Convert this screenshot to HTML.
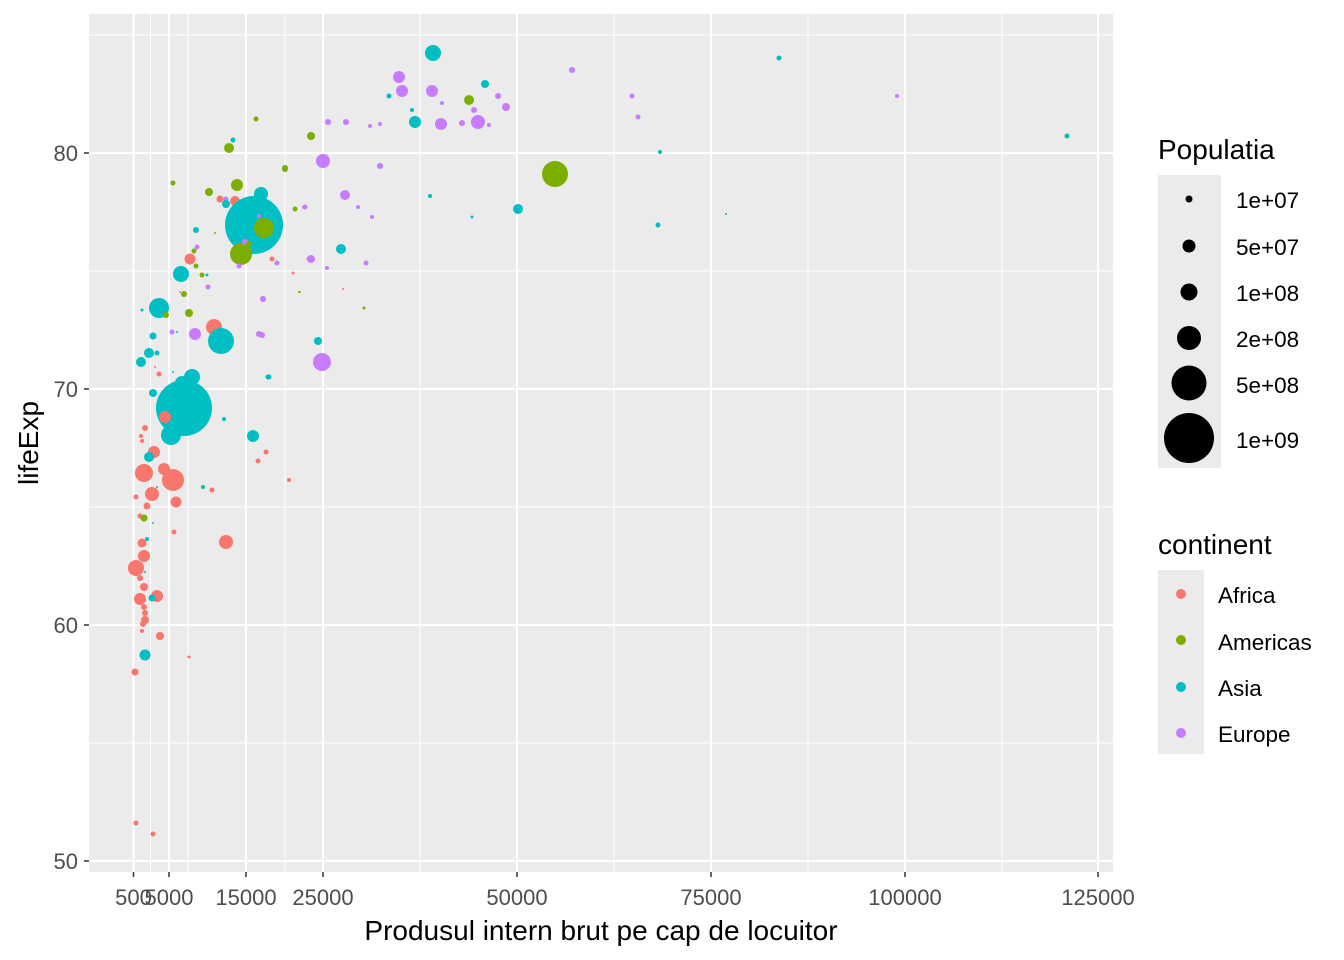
<!DOCTYPE html>
<html><head><meta charset="utf-8"><style>
body{margin:0;background:#fff}
svg{display:block;font-family:"Liberation Sans",Arial,sans-serif}
.A{fill:#F8766D}.M{fill:#7CAE00}.S{fill:#00BFC4}.E{fill:#C77CFF}
</style></head><body>
<svg width="1344" height="960" viewBox="0 0 1344 960">
<rect x="89" y="14" width="1024" height="858" fill="#EBEBEB"/>
<g stroke="#fff" stroke-width="1">
<line x1="89" x2="1113" y1="35" y2="35"/><line x1="89" x2="1113" y1="271" y2="271"/><line x1="89" x2="1113" y1="507" y2="507"/><line x1="89" x2="1113" y1="743" y2="743"/>
<line y1="14" y2="872" x1="150.5" x2="150.5"/><line y1="14" y2="872" x1="188" x2="188"/><line y1="14" y2="872" x1="285" x2="285"/><line y1="14" y2="872" x1="420" x2="420"/><line y1="14" y2="872" x1="614" x2="614"/><line y1="14" y2="872" x1="808" x2="808"/><line y1="14" y2="872" x1="1002" x2="1002"/>
</g>
<g stroke="#fff" stroke-width="2">
<line x1="89" x2="1113" y1="153" y2="153"/><line x1="89" x2="1113" y1="389" y2="389"/><line x1="89" x2="1113" y1="625" y2="625"/><line x1="89" x2="1113" y1="861" y2="861"/>
<line y1="14" y2="872" x1="133.5" x2="133.5"/><line y1="14" y2="872" x1="169" x2="169"/><line y1="14" y2="872" x1="246" x2="246"/><line y1="14" y2="872" x1="323" x2="323"/><line y1="14" y2="872" x1="517" x2="517"/><line y1="14" y2="872" x1="711" x2="711"/><line y1="14" y2="872" x1="905" x2="905"/><line y1="14" y2="872" x1="1098" x2="1098"/>
</g>
<g>
<circle class="S" cx="433" cy="53" r="8"/>
<circle class="E" cx="399" cy="77" r="6"/><circle class="E" cx="402" cy="91" r="6"/><circle class="E" cx="432" cy="91" r="6"/><circle class="E" cx="441" cy="124" r="6"/><circle class="E" cx="478" cy="122" r="7"/><circle class="S" cx="415" cy="122" r="6"/>
<circle class="S" cx="389" cy="96" r="2.5"/><circle class="E" cx="442" cy="103" r="2"/><circle class="S" cx="485" cy="84" r="4"/><circle class="E" cx="498" cy="96" r="3"/><circle class="E" cx="506" cy="107" r="4"/><circle class="M" cx="469" cy="100" r="5"/><circle class="E" cx="474" cy="110" r="3"/><circle class="E" cx="462" cy="123" r="3"/><circle class="E" cx="489" cy="125" r="2"/><circle class="S" cx="412" cy="110" r="2"/>
<circle class="E" cx="572" cy="70" r="3"/><circle class="E" cx="632" cy="96" r="2.5"/><circle class="E" cx="638" cy="117" r="2.5"/><circle class="E" cx="897" cy="96" r="2"/><circle class="S" cx="779" cy="58" r="2.5"/><circle class="S" cx="1067" cy="136" r="2.5"/><circle class="S" cx="660" cy="152" r="2"/><circle class="S" cx="658" cy="225" r="2.5"/><circle class="S" cx="726" cy="214" r="1"/>
<circle class="M" cx="555" cy="174" r="13"/><circle class="S" cx="518" cy="209" r="5"/><circle class="S" cx="472" cy="217" r="1.5"/><circle class="S" cx="430" cy="196" r="2"/>
<circle class="E" cx="380" cy="124" r="2"/><circle class="E" cx="370" cy="126" r="2"/><circle class="E" cx="346" cy="122" r="3"/><circle class="E" cx="328" cy="122" r="3"/><circle class="M" cx="311" cy="136" r="4"/><circle class="M" cx="256" cy="119" r="2.5"/><circle class="S" cx="233" cy="140" r="2.5"/>
<circle class="E" cx="323" cy="161" r="7"/><circle class="M" cx="285" cy="168" r="3"/><circle class="E" cx="345" cy="195" r="5"/><circle class="E" cx="358" cy="207" r="2"/><circle class="E" cx="372" cy="217" r="2"/><circle class="E" cx="304" cy="207" r="2"/><circle class="S" cx="341" cy="249" r="5"/><circle class="E" cx="380" cy="166" r="3"/><circle class="E" cx="311" cy="259" r="4"/><circle class="E" cx="327" cy="268" r="2"/><circle class="E" cx="366" cy="263" r="2.5"/><circle class="M" cx="299" cy="292" r="1"/><circle class="A" cx="343" cy="289" r="1"/><circle class="M" cx="364" cy="308" r="1.5"/><circle class="S" cx="318" cy="341" r="4"/><circle class="E" cx="322" cy="362" r="9"/><circle class="E" cx="262" cy="335" r="3"/><circle class="E" cx="263" cy="299" r="3"/><circle class="S" cx="268" cy="377" r="2.5"/>
<circle class="M" cx="229" cy="148" r="5"/><circle class="M" cx="285" cy="169" r="3"/><circle class="M" cx="173" cy="183" r="2.5"/><circle class="M" cx="237" cy="185" r="6"/><circle class="M" cx="209" cy="192" r="4"/><circle class="A" cx="220" cy="199" r="3.5"/><circle class="E" cx="226" cy="199" r="2.5"/><circle class="A" cx="235" cy="201" r="5"/><circle class="S" cx="226" cy="204" r="4"/>
<circle class="S" cx="261" cy="194" r="7"/><circle class="S" cx="254" cy="225" r="29"/><circle class="M" cx="264" cy="228" r="10"/><circle class="E" cx="259" cy="216" r="2"/><circle class="M" cx="295" cy="209" r="2.5"/><circle class="E" cx="305" cy="207" r="2.5"/><circle class="S" cx="196" cy="230" r="3"/><circle class="M" cx="215" cy="233" r="1"/>
<circle class="E" cx="197" cy="247" r="2.5"/><circle class="M" cx="194" cy="251" r="2.5"/><circle class="A" cx="190" cy="259" r="5.5"/><circle class="M" cx="196" cy="266" r="2.5"/><circle class="M" cx="241" cy="254" r="11"/><circle class="E" cx="245" cy="242" r="3"/><circle class="M" cx="249" cy="244" r="3"/><circle class="A" cx="272" cy="259" r="2.5"/><circle class="E" cx="277" cy="263" r="2.5"/><circle class="E" cx="239" cy="266" r="2.5"/><circle class="E" cx="309" cy="259" r="2.5"/><circle class="A" cx="293" cy="273" r="1.5"/>
<circle class="S" cx="181" cy="274" r="8"/><circle class="M" cx="202" cy="275" r="2.5"/><circle class="S" cx="207" cy="275" r="1.5"/><circle class="E" cx="208" cy="287" r="2.5"/><circle class="A" cx="180" cy="292" r="1"/><circle class="M" cx="184" cy="294" r="3"/><circle class="M" cx="300" cy="292" r="1"/><circle class="E" cx="263" cy="299" r="3"/>
<circle class="S" cx="159" cy="308" r="10"/><circle class="S" cx="142" cy="310" r="1.5"/><circle class="M" cx="166" cy="315" r="3"/><circle class="M" cx="189" cy="313" r="4"/><circle class="A" cx="214" cy="327" r="8"/><circle class="S" cx="221" cy="341" r="13"/><circle class="E" cx="195" cy="334" r="6"/><circle class="E" cx="172" cy="332" r="2.5"/><circle class="S" cx="177" cy="332" r="1"/><circle class="E" cx="259" cy="334" r="3"/>
<circle class="S" cx="153" cy="336" r="3.5"/><circle class="S" cx="149" cy="353" r="5"/><circle class="S" cx="157" cy="353" r="2.5"/><circle class="S" cx="141" cy="362" r="5"/><circle class="A" cx="155" cy="367" r="1"/><circle class="A" cx="159" cy="374" r="2.5"/><circle class="S" cx="173" cy="372" r="1"/><circle class="S" cx="269" cy="377" r="2.5"/>
<circle class="S" cx="192" cy="377" r="8"/><circle class="S" cx="182" cy="383" r="7"/><circle class="S" cx="184" cy="408" r="28"/><circle class="A" cx="165" cy="417" r="6"/><circle class="S" cx="153" cy="393" r="4"/><circle class="S" cx="224" cy="419" r="2"/><circle class="S" cx="171" cy="435" r="10"/><circle class="S" cx="253" cy="436" r="6"/><circle class="A" cx="145" cy="428" r="3"/><circle class="A" cx="141" cy="436" r="2"/><circle class="A" cx="142" cy="441" r="2"/>
<circle class="A" cx="154" cy="452" r="6"/><circle class="S" cx="149" cy="457" r="5"/><circle class="A" cx="266" cy="452" r="2.5"/><circle class="A" cx="258" cy="461" r="2.5"/><circle class="A" cx="144" cy="473" r="9"/><circle class="A" cx="164" cy="469" r="6"/><circle class="A" cx="173" cy="480" r="11"/><circle class="A" cx="152" cy="494" r="7"/><circle class="S" cx="157" cy="487" r="1"/><circle class="S" cx="203" cy="487" r="2"/><circle class="A" cx="212" cy="490" r="2.5"/><circle class="A" cx="289" cy="480" r="2"/><circle class="A" cx="136" cy="497" r="2.5"/><circle class="A" cx="176" cy="502" r="5.5"/><circle class="A" cx="147" cy="506" r="3.5"/><circle class="A" cx="140" cy="516" r="2.5"/><circle class="M" cx="144" cy="518" r="3.5"/><circle class="S" cx="153" cy="523" r="1"/><circle class="A" cx="174" cy="532" r="2.5"/><circle class="S" cx="147" cy="539" r="2"/><circle class="A" cx="142" cy="543" r="4.5"/><circle class="A" cx="226" cy="542" r="7"/><circle class="A" cx="144" cy="556" r="6"/><circle class="A" cx="136" cy="568" r="8"/><circle class="S" cx="145" cy="572" r="1"/><circle class="A" cx="140" cy="578" r="3"/><circle class="A" cx="144" cy="587" r="4"/><circle class="A" cx="140" cy="599" r="6"/><circle class="A" cx="157" cy="596" r="6"/><circle class="S" cx="152" cy="598" r="3.5"/><circle class="A" cx="144" cy="607" r="3"/><circle class="A" cx="145" cy="613" r="3"/><circle class="A" cx="145" cy="620" r="4"/><circle class="A" cx="143" cy="624" r="3"/><circle class="A" cx="142" cy="631" r="2"/><circle class="A" cx="160" cy="636" r="4"/><circle class="S" cx="145" cy="655" r="5.5"/><circle class="A" cx="189" cy="657" r="1.5"/><circle class="A" cx="135" cy="672" r="3.5"/><circle class="A" cx="136" cy="823" r="2.5"/><circle class="A" cx="153" cy="834" r="2.5"/>
</g>
<g stroke="#333" stroke-width="1.5">
<line x1="84" x2="89" y1="153" y2="153"/><line x1="84" x2="89" y1="389" y2="389"/><line x1="84" x2="89" y1="625" y2="625"/><line x1="84" x2="89" y1="861" y2="861"/>
<line y1="872" y2="877" x1="133.5" x2="133.5"/><line y1="872" y2="877" x1="169" x2="169"/><line y1="872" y2="877" x1="246" x2="246"/><line y1="872" y2="877" x1="323" x2="323"/><line y1="872" y2="877" x1="517" x2="517"/><line y1="872" y2="877" x1="711" x2="711"/><line y1="872" y2="877" x1="905" x2="905"/><line y1="872" y2="877" x1="1098" x2="1098"/>
</g>
<g fill="#4D4D4D" font-size="22" text-anchor="end">
<text x="78" y="161">80</text><text x="78" y="397">70</text><text x="78" y="633">60</text><text x="78" y="869">50</text>
</g>
<g fill="#4D4D4D" font-size="22" text-anchor="middle">
<text x="133.5" y="905">500</text><text x="169" y="905">5000</text><text x="246" y="905">15000</text><text x="323" y="905">25000</text><text x="517" y="905">50000</text><text x="711" y="905">75000</text><text x="905" y="905">100000</text><text x="1098" y="905">125000</text>
</g>
<text x="601" y="940" font-size="28" text-anchor="middle">Produsul intern brut pe cap de locuitor</text>
<text transform="translate(38,443) rotate(-90)" font-size="28" text-anchor="middle">lifeExp</text>
<text x="1158" y="159" font-size="28">Populatia</text>
<rect x="1158" y="175" width="63" height="293" fill="#EBEBEB"/>
<g fill="#000"><circle cx="1189" cy="199" r="3.5"/><circle cx="1189" cy="246" r="6.5"/><circle cx="1189" cy="292" r="8.5"/><circle cx="1189" cy="338" r="12"/><circle cx="1189" cy="383" r="17.5"/><circle cx="1189" cy="438" r="25"/></g>
<g font-size="22.5"><text x="1236" y="208">1e+07</text><text x="1236" y="255">5e+07</text><text x="1236" y="301">1e+08</text><text x="1236" y="347">2e+08</text><text x="1236" y="393">5e+08</text><text x="1236" y="448">1e+09</text></g>
<text x="1158" y="554" font-size="28">continent</text>
<rect x="1158" y="570" width="46" height="184" fill="#EBEBEB"/>
<circle class="A" cx="1181" cy="594" r="5"/><circle class="M" cx="1181" cy="640" r="5"/><circle class="S" cx="1181" cy="687" r="5"/><circle class="E" cx="1181" cy="733" r="5"/>
<g font-size="22.5"><text x="1218" y="603">Africa</text><text x="1218" y="650">Americas</text><text x="1218" y="696">Asia</text><text x="1218" y="742">Europe</text></g>
</svg>
</body></html>
